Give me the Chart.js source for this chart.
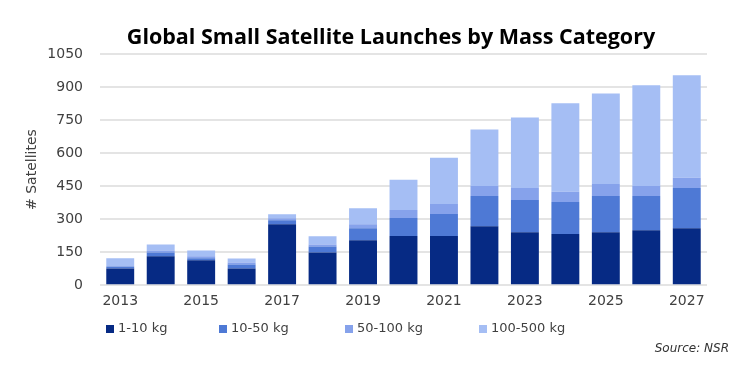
<!DOCTYPE html>
<html>
<head>
<meta charset="utf-8">
<script src="https://cdn.jsdelivr.net/npm/chart.js@4.4.1/dist/chart.umd.min.js"></script>
<style>
    html, body { margin: 0; padding: 0; background: #fff; }
    .chart-wrap { position: relative; width: 746px; height: 370px; }
</style>
</head>
<body>
<div class="chart-wrap">
    <canvas id="satChart" width="746" height="370"></canvas>
</div>
<script>
// Data
const years = ['2013', '2014', '2015', '2016', '2017', '2018', '2019', '2020',
    '2021', '2022', '2023', '2024', '2025', '2026', '2027'];
const kg1to10 = [76, 131, 113, 76, 277, 149, 204, 223, 223, 268, 241, 232, 241, 250, 259];
const kg10to50 = [9, 18, 9, 18, 18, 27, 55, 82, 100, 137, 146, 146, 164, 155, 183];
const kg50to100 = [0, 9, 9, 9, 9, 9, 18, 37, 46, 46, 55, 46, 55, 46, 46];
const kg100to500 = [37, 27, 27, 18, 18, 37, 73, 137, 210, 256, 320, 402, 411, 457, 466];
const yTicks = [0, 150, 300, 450, 600, 750, 900, 1050];

const seriesNames = ['1-10 kg', '10-50 kg', '50-100 kg', '100-500 kg'];
const seriesColors = ['#062a84', '#4e79d5', '#86a2eb', '#a5bef4'];

const fontFamily = '"DejaVu Sans", Verdana, sans-serif';
const chartTitle = 'Global Small Satellite Launches by Mass Category';

// Title, legend and source note drawn on the canvas
const annotations = {
    id: 'annotations',
    afterDraw(chart) {
        const ctx = chart.ctx;
        ctx.save();
        // title
        ctx.font = 'bold 21.5px "Open Sans", sans-serif';
        ctx.textAlign = 'center';
        ctx.textBaseline = 'middle';
        ctx.fillStyle = '#000';
        ctx.fillText(chartTitle, 391, 38);

        // legend
        const xs = [106, 219, 345, 479];
        const y = 329;
        ctx.font = '13px ' + fontFamily;
        ctx.textAlign = 'left';
        chart.data.datasets.forEach((ds, i) => {
            ctx.fillStyle = ds.backgroundColor;
            ctx.fillRect(xs[i], y - 4, 8, 8);
            ctx.fillStyle = '#404040';
            ctx.fillText(ds.label, xs[i] + 12, y);
        });

        // source
        ctx.font = 'italic 12px ' + fontFamily;
        ctx.textAlign = 'right';
        ctx.fillStyle = '#333';
        ctx.fillText('Source: NSR', 729, 349);
        ctx.restore();
    }
};

const ctx = document.querySelector('#satChart');
const satChart = new Chart(ctx, {
    type: 'bar',
    data: {
        labels: years,
        datasets: [kg1to10, kg10to50, kg50to100, kg100to500].map((vals, i) => ({
            label: seriesNames[i],
            data: vals,
            backgroundColor: seriesColors[i],
            borderWidth: 0,
            categoryPercentage: 1,
            barPercentage: 0.69
        }))
    },
    options: {
        responsive: false,
        animation: false,
        layout: {
            padding: { left: 0, right: 39, bottom: 52, top: 54 }
        },
        plugins: {
            legend: { display: false },
            tooltip: { enabled: false },
            title: { display: false }
        },
        scales: {
            x: {
                stacked: true,
                grid: { display: false, drawTicks: false },
                border: { display: false },
                ticks: {
                    autoSkip: false,
                    maxRotation: 0,
                    color: '#404040',
                    font: { family: fontFamily, size: 14 },
                    padding: 8,
                    callback: (val, idx) => (idx % 2 === 0 ? years[idx] : '')
                }
            },
            y: {
                stacked: true,
                min: 0,
                max: 1050,
                afterBuildTicks: (axis) => {
                    axis.ticks = yTicks.map(v => ({ value: v }));
                },
                afterFit: (axis) => {
                    axis.width = 100;
                },
                grid: { color: '#e4e4e4', lineWidth: 2, drawTicks: false },
                border: { display: false },
                ticks: {
                    color: '#404040',
                    font: { family: fontFamily, size: 14 },
                    padding: 17,
                    callback: (val) => String(val)
                },
                title: {
                    display: true,
                    text: '# Satellites',
                    color: '#404040',
                    font: { family: fontFamily, size: 14 },
                    padding: { top: 24, bottom: 4 }
                }
            }
        }
    },
    plugins: [annotations]
});
</script>
</body>
</html>
